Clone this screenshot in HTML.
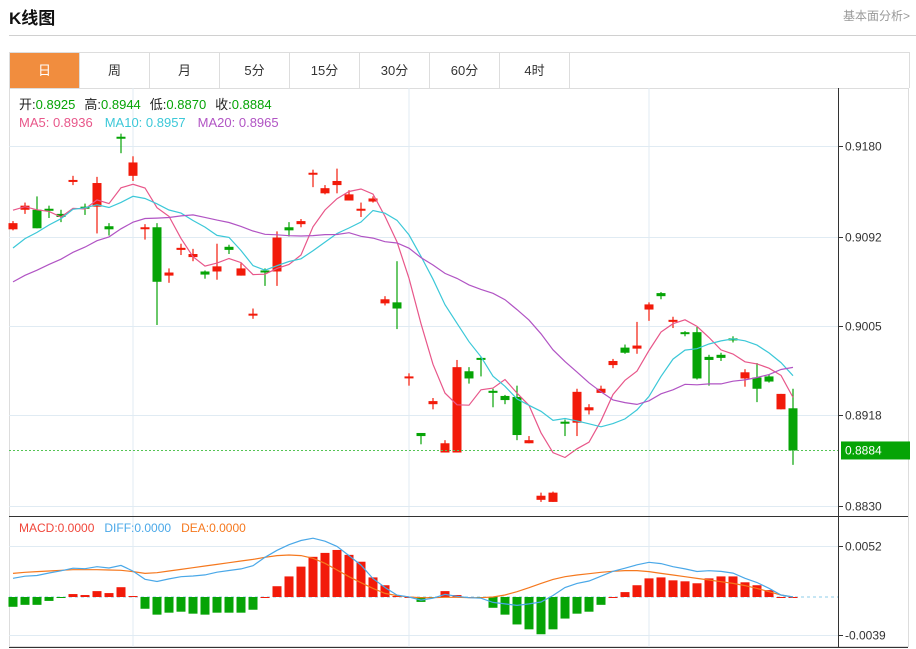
<!DOCTYPE html>
<html><head><meta charset="utf-8">
<style>
body{margin:0;background:#fff;width:916px;height:649px;overflow:hidden;font-family:"Liberation Sans","Noto Sans CJK SC",sans-serif;}
#title{position:absolute;left:9px;top:4px;font-size:17px;font-weight:bold;color:#111;}
#link{position:absolute;right:6px;top:7px;font-size:12px;color:#999;}
#rule{position:absolute;left:9px;right:0;top:35px;height:1px;background:#d0d0d0;}
#tabs{position:absolute;left:9px;top:52px;width:899px;height:35px;border:1px solid #ddd;border-bottom:none;display:flex;}
.tab{width:70px;height:35px;border-right:1px solid #ddd;box-sizing:border-box;text-align:center;line-height:35px;font-size:13px;color:#333;}
.tab.on{background:#f18d3e;color:#fff;}
svg{position:absolute;left:0;top:0;}
</style></head><body>
<div id="title">K线图</div>
<div id="link">基本面分析&gt;</div>
<div id="rule"></div>
<div id="tabs">
<div class="tab on">日</div>
<div class="tab">周</div>
<div class="tab">月</div>
<div class="tab">5分</div>
<div class="tab">15分</div>
<div class="tab">30分</div>
<div class="tab">60分</div>
<div class="tab">4时</div>
</div>
<svg id="chart" width="916" height="649"></svg>
<script>
const opens =[.9099,.9118,.9118,.9119,.9114,.9146,.9121,.9121,.9102,.9189,.9151,.9100,.9101,.9054,.9079,.9072,.9058,.9058,.9082,.9054,.9016,.9059,.9058,.9101,.9104,.9153,.9134,.9142,.9127,.9118,.9126,.9027,.9028,.8955,.8901,.8929,.8882,.8882,.8961,.8974,.8942,.8937,.8936,.8891,.8836,.8834,.8912,.8911,.8923,.8940,.8967,.8984,.8983,.9021,.9037,.9009,.8999,.8999,.8975,.8977,.8993,.8954,.8955,.8956,.8924,.8925];
const closes=[.9105,.9122,.9100,.9117,.9111,.9147,.9119,.9144,.9099,.9188,.9164,.9101,.9048,.9057,.9081,.9075,.9055,.9063,.9079,.9061,.9017,.9057,.9091,.9098,.9107,.9154,.9139,.9146,.9133,.9119,.9129,.9031,.9022,.8956,.8898,.8932,.8891,.8965,.8954,.8973,.8940,.8933,.8899,.8894,.8840,.8843,.8910,.8941,.8926,.8944,.8971,.8979,.8986,.9026,.9034,.9011,.8998,.8954,.8972,.8974,.8991,.8960,.8944,.8951,.8939,.8884];
const highs =[.9107,.9125,.9131,.9122,.9118,.9151,.9124,.9150,.9105,.9192,.9170,.9104,.9105,.9061,.9085,.9080,.9059,.9085,.9084,.9066,.9022,.9061,.9097,.9106,.9109,.9157,.9142,.9158,.9137,.9125,.9131,.9034,.9068,.8959,.8901,.8935,.8894,.8972,.8965,.8975,.8944,.8938,.8947,.8898,.8843,.8844,.8914,.8944,.8929,.8947,.8973,.8987,.9009,.9028,.9038,.9014,.9000,.9004,.8977,.8979,.8995,.8963,.8969,.8958,.8939,.8944];
const lows  =[.9098,.9114,.9100,.9110,.9106,.9142,.9113,.9095,.9093,.9173,.9146,.9089,.9006,.9047,.9074,.9068,.9051,.9050,.9075,.9054,.9012,.9044,.9044,.9092,.9101,.9140,.9133,.9134,.9127,.9111,.9125,.9025,.9002,.8947,.8890,.8924,.8882,.8882,.8949,.8956,.8926,.8929,.8894,.8891,.8834,.8834,.8898,.8898,.8919,.8940,.8964,.8978,.8978,.9010,.9031,.9003,.8995,.8953,.8947,.8971,.8989,.8946,.8931,.8950,.8924,.8870];
const priorCloses=[.8995,.9000,.9005,.9010,.9012,.9018,.9020,.9025,.9030,.9035,.9030,.9040,.9045,.9050,.9055,.9105,.9115,.9125,.9138];
const priceTicks=[0.9180,0.9092,0.9005,0.8918,0.8830];
const macdHist=[-10,-8,-8,-4,-1,3,2,6,4,10,1,-12,-18,-16,-15,-17,-18,-16,-16,-16,-13,0,11,21,31,41,45,48,43,36,20,12,1,0,-5,-1,6,2,0,-1,-11,-18,-28,-33,-38,-33,-22,-17,-15,-8,0,5,12,19,20,17,16,14,19,21,21,15,12,7,0,0];
const deaVals=[24.1,25.2,25.9,26.5,27.2,27.9,27.9,27.9,27.6,27.2,25.9,24.1,24.8,26.5,28.2,29.9,31.6,33.3,35.0,36.7,38.4,40.5,42.2,42.9,42.2,39.5,34.4,27.6,20.7,14.6,8.8,3.7,1.4,0,-0.7,-0.7,-0.3,-0.3,-0.7,-0.7,0,2.0,5.4,9.5,13.9,18.0,20.7,22.4,23.8,25.2,26.2,26.9,26.9,25.9,24.1,22.4,20.7,19.0,17.3,15.6,13.9,11.6,8.8,5.4,2.0,0];
const macdTicks=[52,-39];

const svg=document.getElementById('chart');
const NS='http://www.w3.org/2000/svg';
function mk(tag,attrs,parent){const e=document.createElementNS(NS,tag);for(const k in attrs)e.setAttribute(k,attrs[k]);(parent||svg).appendChild(e);return e;}
const L=9,R=838,T=88,MID=516,B=647;
const xOf=i=>13+12*i;
const yP=p=>146+(0.918-p)*10286;
const yM=v=>597-v*0.98;
// frame
let f=mk('rect',{x:L+0.5,y:T+0.5,width:899,height:B-T-1,fill:'none',stroke:'#ddd'});


[133,409,649].forEach(x=>{let g=mk('line',{x1:x,x2:x,y1:T,y2:B,stroke:'#e0ebf3'});

});
priceTicks.forEach(p=>{const y=Math.round(yP(p))+0.5;let g=mk('line',{x1:L,x2:R,y1:y,y2:y,stroke:'#e0ebf3'});


mk('line',{x1:R,x2:R+5,y1:y,y2:y,stroke:'#333'});
let t=mk('text',{x:R+7,y:y+4,'font-size':12,fill:'#333','font-family':'Liberation Sans'});t.textContent=p.toFixed(4);

});
macdTicks.forEach(v=>{const y=Math.round(yM(v))+0.5;mk('line',{x1:L,x2:R,y1:y,y2:y,stroke:'#e0ebf3'});
mk('line',{x1:R,x2:R+5,y1:y,y2:y,stroke:'#333'});
let t=mk('text',{x:R+7,y:y+4,'font-size':12,fill:'#333','font-family':'Liberation Sans'});t.textContent=(v/10000).toFixed(4);

});
mk('line',{x1:L,x2:908,y1:MID+0.5,y2:MID+0.5,stroke:'#333'});
mk('line',{x1:L,x2:908,y1:B+0.5,y2:B+0.5,stroke:'#333'});
let ax=mk('line',{x1:R+0.5,x2:R+0.5,y1:T,y2:B,stroke:'#333'});


// candles
opens.forEach((o,i)=>{const c=closes[i],up=c>=o,col=up?'#f21a0a':'#06a406',x=xOf(i);
const g=mk('g',{});


mk('line',{x1:x,x2:x,y1:yP(highs[i]),y2:yP(lows[i]),stroke:col,'stroke-width':1.2},g);
const y1=yP(Math.max(o,c)),y2=yP(Math.min(o,c));
mk('rect',{x:x-4.5,y:y1,width:9,height:Math.max(2,y2-y1),fill:col},g);});
// MAs
const all=priorCloses.concat(closes);
function ma(n){return closes.map((_,i)=>{const j=i+priorCloses.length;let s=0;for(let k=j-n+1;k<=j;k++)s+=all[k];return s/n;});}
[[5,'#e8578a','ma5-line'],[10,'#3cc8d8','ma10-line'],[20,'#b154c4','ma20-line']].forEach(([n,col,name])=>{
const pts=ma(n).map((v,i)=>xOf(i)+','+yP(v).toFixed(1)).join(' ');
let p=mk('polyline',{points:pts,fill:'none',stroke:col,'stroke-width':1.2});

});
// last price line
const lp=yP(closes[closes.length-1]);
mk('line',{x1:L,x2:R,y1:lp,y2:lp,stroke:'#55c455','stroke-dasharray':'2,2'});
let lb=mk('rect',{x:R+3,y:lp-9,width:69,height:18,fill:'#06a406'});


let lt=mk('text',{x:R+7,y:lp+4,'font-size':12,fill:'#fff'});lt.textContent=closes[closes.length-1].toFixed(4);
// MACD
mk('line',{x1:L,x2:R,y1:597,y2:597,stroke:'#8ccde8','stroke-dasharray':'3,3'});
macdHist.forEach((v,i)=>{const y0=yM(0),y1=yM(v);
let r=mk('rect',{x:xOf(i)-4.5,y:Math.min(y0,y1),width:9,height:Math.max(1,Math.abs(y1-y0)),fill:v>=0?'#f21a0a':'#06a406'});

});
const diffVals=deaVals.map((d,i)=>d+macdHist[i]/2);
[[deaVals,'#f5781e','dea-line'],[diffVals,'#4aa8e8','diff-line']].forEach(([arr,col,name])=>{
let p=mk('polyline',{points:arr.map((v,i)=>xOf(i)+','+yM(v).toFixed(1)).join(' '),fill:'none',stroke:col,'stroke-width':1.2});

});
// legends
function legend(y,parts,name){const t=mk('text',{x:19,y:y,'font-size':13});


parts.forEach(([s,c,dx])=>{const sp=mk('tspan',{fill:c},t);if(dx)sp.setAttribute('dx',dx);sp.textContent=s;});}
legend(109,[['开:','#222'],['0.8925','#06a406'],['高:','#222',9],['0.8944','#06a406'],['低:','#222',9],['0.8870','#06a406'],['收:','#222',9],['0.8884','#06a406']],'ohlc-legend');
legend(127,[['MA5: 0.8936','#e8578a'],['MA10: 0.8957','#3cc8d8',12],['MA20: 0.8965','#b154c4',12]],'ma-legend');
const ml=mk('text',{x:19,y:532,'font-size':12});


[['MACD:0.0000','#f0463a'],['DIFF:0.0000','#4aa8e8',10],['DEA:0.0000','#f5781e',10]].forEach(([s,c,dx])=>{const sp=mk('tspan',{fill:c},ml);if(dx)sp.setAttribute('dx',dx);sp.textContent=s;});
</script>
</body></html>
